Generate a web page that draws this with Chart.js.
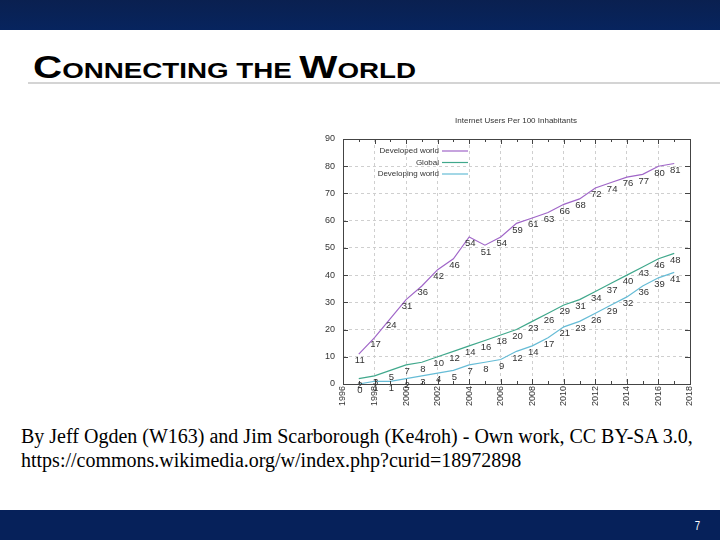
<!DOCTYPE html>
<html><head><meta charset="utf-8">
<script src="https://cdn.jsdelivr.net/npm/chart.js@4"></script>
<style>
html,body{margin:0;padding:0;background:#fff;}
#slide{position:relative;width:720px;height:540px;overflow:hidden;background:#fff;}
#topbar{position:absolute;left:0;top:0;width:720px;height:30px;background:linear-gradient(#0a2050,#07245e);}
#botbar{position:absolute;left:0;top:510px;width:720px;height:30px;background:#06215a;}
#pnum{position:absolute;left:694px;top:519px;color:#fff;font:12px "Liberation Sans",sans-serif;transform:scaleX(0.8);}
#title{position:absolute;left:33px;top:51px;font-family:"Liberation Sans",Arial,sans-serif;font-weight:bold;color:#000;white-space:nowrap;line-height:1;transform-origin:0 0;}
#title .b{font-size:32px;}
#title .s{font-size:22px;}
#rule{position:absolute;left:28px;top:82px;width:692px;height:2px;background:#d4d4d4;}
#caption{position:absolute;left:21px;top:424px;font:20px "Liberation Serif","Times New Roman",serif;line-height:24px;color:#000;white-space:nowrap;}
#wrap{position:absolute;left:300px;top:105px;width:420px;height:310px;}
</style></head>
<body><div id="slide">
<div id="topbar"></div>
<div id="rule"></div>
<div id="title"><span class="b">C</span><span class="s">ONNECTING THE </span><span class="b">W</span><span class="s">ORLD</span></div>
<div id="wrap"><canvas id="c" width="420" height="310"></canvas></div>
<div id="caption">By Jeff Ogden (W163) and Jim Scarborough (Ke4roh) - Own work, CC BY-SA 3.0,<br>https://commons.wikimedia.org/w/index.php?curid=18972898</div>
<div id="botbar"></div>
<div id="pnum">7</div>
</div>
<script>
const years = [1997,1998,1999,2000,2001,2002,2003,2004,2005,2006,2007,2008,2009,2010,2011,2012,2013,2014,2015,2016,2017];
const developed = [11,17,24,31,36,42,46,54,51,54,59,61,63,66,68,72,74,76,77,80,81];
const global = [2,3,5,7,8,10,12,14,16,18,20,23,26,29,31,34,37,40,43,46,48];
const developing = [0,1,1,2,3,4,5,7,8,9,12,14,17,21,23,26,29,32,36,39,41];
const seriesNames = ['Developed world','Global','Developing world'];
const chartTitle = 'Internet Users Per 100 Inhabitants';
const colors = ['#a066c8','#40a88c','#66bcd6'];

(function(){
  const t = document.getElementById('title');
  const w = t.getBoundingClientRect().width;
  t.style.transform = 'scaleX(' + (383 / w) + ')';
})();

const toPts = arr => arr.map((v,i)=>({x:years[i], y:v}));
const FONT = '"Liberation Sans", Arial, sans-serif';

const decor = {
  id:'decor',
  afterDatasetsDraw(chart){
    const ctx = chart.ctx, a = chart.chartArea, xs = chart.scales.x, ys = chart.scales.y;
    ctx.save();
    ctx.strokeStyle = '#444'; ctx.lineWidth = 1;
    ctx.strokeRect(Math.round(a.left)+0.5, Math.round(a.top)+0.5, Math.round(a.right-a.left), Math.round(a.bottom-a.top));
    ctx.beginPath();
    for(let yr=1996; yr<=2018; yr++){
      const px = Math.round(xs.getPixelForValue(yr))+0.5;
      const len = (yr%2===0)?5:3;
      ctx.moveTo(px,a.bottom); ctx.lineTo(px,a.bottom-len);
      ctx.moveTo(px,a.top); ctx.lineTo(px,a.top+len);
    }
    for(let v=0; v<=90; v+=10){
      const py = Math.round(ys.getPixelForValue(v))+0.5;
      ctx.moveTo(a.left,py); ctx.lineTo(a.left+5,py);
      ctx.moveTo(a.right,py); ctx.lineTo(a.right-5,py);
    }
    ctx.stroke();
    ctx.fillStyle = '#333'; ctx.font = '9.5px '+FONT; ctx.textAlign='center'; ctx.textBaseline='top';
    chart.data.datasets.forEach((ds,di)=>{
      const meta = chart.getDatasetMeta(di);
      meta.data.forEach((pt,i)=>{
        ctx.fillText(String(ds.data[i].y), pt.x+1, pt.y+2);
      });
    });
    ctx.font = '8px '+FONT; ctx.fillStyle='#333'; ctx.textAlign='center'; ctx.textBaseline='middle';
    ctx.fillText(chartTitle, 216, 16);
    ctx.font = '8px '+FONT; ctx.textAlign='right';
    chart.data.datasets.forEach((ds,di)=>{
      const y = a.top + 12 + di*11.5;
      ctx.fillStyle='#333';
      ctx.fillText(ds.label, a.left+96, y);
      ctx.strokeStyle = ds.borderColor; ctx.lineWidth=1.2;
      ctx.beginPath(); ctx.moveTo(a.left+99,y); ctx.lineTo(a.left+125,y); ctx.stroke();
    });
    ctx.restore();
  }
};

new Chart(document.getElementById('c'),{
  type:'line',
  data:{datasets:[
    {label:seriesNames[0], data:toPts(developed), borderColor:colors[0], borderWidth:1.2, pointRadius:0, fill:false},
    {label:seriesNames[1], data:toPts(global), borderColor:colors[1], borderWidth:1.2, pointRadius:0, fill:false},
    {label:seriesNames[2], data:toPts(developing), borderColor:colors[2], borderWidth:1.2, pointRadius:0, fill:false}
  ]},
  options:{
    responsive:false, animation:false, events:[],
    layout:{padding:{left:0,right:30,top:34,bottom:0}},
    plugins:{legend:{display:false}, title:{display:false}, tooltip:{enabled:false}},
    scales:{
      x:{type:'linear', min:1996, max:2018,
        afterFit(s){s.height=31;},
        ticks:{stepSize:2, minRotation:90, maxRotation:90, color:'#333', font:{size:9,family:FONT}, padding:2, callback:v=>String(v)},
        grid:{color:'#cfcfcf', drawTicks:false, lineWidth:1},
        border:{display:false, dash:[3,3]}
      },
      y:{type:'linear', min:0, max:90,
        afterFit(s){s.width=43;},
        ticks:{stepSize:10, color:'#333', font:{size:9,family:FONT}, padding:8},
        grid:{color:'#cfcfcf', drawTicks:false, lineWidth:1},
        border:{display:false, dash:[3,3]}
      }
    }
  },
  plugins:[decor]
});
</script>
</body></html>
